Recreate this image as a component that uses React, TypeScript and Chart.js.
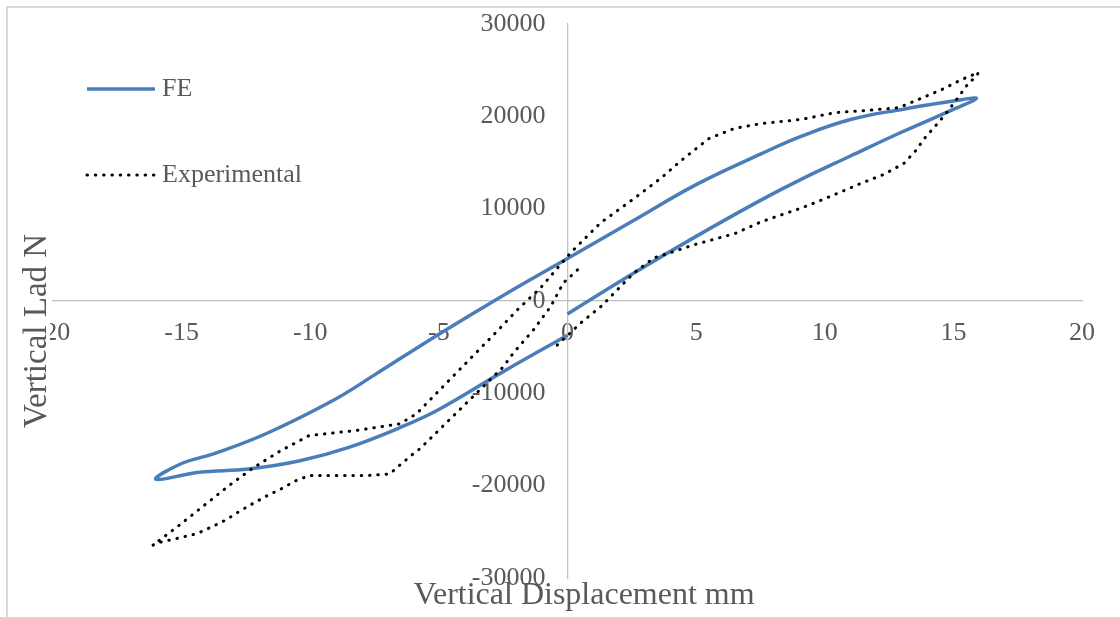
import React, { useEffect, useRef } from "react";
import { Chart, registerables } from "chart.js";

Chart.register(...registerables);

const X_TICKS = [-20, -15, -10, -5, 0, 5, 10, 15, 20];
const Y_TICKS = [-30000, -20000, -10000, 0, 10000, 20000, 30000];
const SERIES_NAMES = ["FE", "Experimental"];
const X_TITLE = "Vertical Displacement mm";
const Y_TITLE = "Vertical Lad N";

const FE_X = [0, 2.5, 5, 7.5, 9.1, 11, 13, 15, 15.9, 15, 13, 11, 9.1, 7.5, 5, 2.5, 0, -2.5, -5, -7.5, -9.1, -11.7, -13.7, -15, -16, -14.3, -12.4, -10.4, -8.5, -6.5, -5, -2.5, 0];
const FE_Y = [-1400, 2900, 7000, 10900, 13200, 15700, 18300, 20750, 21950, 21650, 20750, 19650, 17850, 15900, 12600, 8600, 4600, 600, -3600, -8000, -10750, -14350, -16500, -17600, -19300, -18550, -18200, -17300, -15850, -13700, -11750, -7650, -3700];

const EXP_X = [0.39, -0.16, -0.66, -1.33, -2.11, -2.5, -5.74, -6.0, -6.46, -6.91, -7.82, -9.14, -10.04, -10.56, -11.14, -11.68, -12.27, -12.77, -13.29, -13.83, -14.4, -15.31, -15.9, -16.12,
  -15.12, -14.14, -13.16, -12.19, -11.14, -10.04, -8.21, -6.52, -5.87, -2.62, -1.96, -1.05, 0.12, 1.29, 2.53, 3.63, 4.5, 5.5, 6.5, 7.5, 9.1, 10.39, 11.7, 12.88, 13.66, 14.57, 15.35, 15.98,
  15.86, 15.6, 15.42, 15.08, 14.69, 14.3, 13.9, 13.52, 13.07, 12.29, 11.45, 10.53, 9.75, 9.1, 7.54, 6.5, 4.92, 4.14, 3.36, 2.58, 1.29, 0.51, -0.4];
const EXP_Y = [3370, 1960, -620, -3150, -5650, -7140, -16010, -16560, -17640, -18730, -18910, -18910, -18910, -19460, -20360, -21090, -22000, -22800, -23730, -24460, -25190, -25800, -26160, -26450,
  -24350, -22170, -20000, -18010, -16200, -14570, -14020, -13300, -12210, -2935, -980, 1410, 5220, 8480, 10980, 13300, 15400, 17600, 18700, 19200, 19670, 20400, 20650, 20940, 21850, 22930, 24020, 24750,
  24200, 23660, 22940, 21660, 20220, 18950, 17690, 16230, 14890, 13700, 12790, 11700, 10790, 10080, 8590, 7300, 6090, 5360, 4670, 3040, -620, -2390, -4780];

const FONT = "'Liberation Serif', 'Times New Roman', serif";
const TEXT_COLOR = "#595959";
const FE_COLOR = "#4a7ebb";
const Y_LABEL_GAP = 22;

const yLabelShiftPlugin = {
  id: "yLabelShift",
  beforeDraw(chart: any) {
    const scale = chart.scales.y;
    if (!scale || typeof scale.getLabelItems !== "function") return;
    const items = scale.getLabelItems();
    if (!items || items.__shifted) return;
    items.forEach((it: any) => {
      if (it.options && it.options.translation) it.options.translation[0] -= Y_LABEL_GAP;
    });
    items.__shifted = true;
  },
};

const overlayPlugin = {
  id: "overlay",
  afterDraw(chart: any) {
    const ctx = chart.ctx as CanvasRenderingContext2D;
    const ds = chart.data.datasets;
    ctx.save();
    const legendYs = [81, 167];
    ds.forEach((d: any, i: number) => {
      const y = legendYs[i];
      ctx.save();
      ctx.strokeStyle = d.borderColor;
      ctx.lineWidth = d.borderWidth;
      ctx.lineCap = d.borderCapStyle || "butt";
      ctx.setLineDash(d.borderDash || []);
      ctx.beginPath();
      ctx.moveTo(79, y);
      ctx.lineTo(147, y);
      ctx.stroke();
      ctx.restore();
      ctx.fillStyle = TEXT_COLOR;
      ctx.font = `26px ${FONT}`;
      ctx.textAlign = "left";
      ctx.textBaseline = "middle";
      ctx.fillText(d.label, 154, y);
    });
    ctx.fillStyle = TEXT_COLOR;
    ctx.font = `32px ${FONT}`;
    ctx.textAlign = "center";
    ctx.textBaseline = "alphabetic";
    ctx.fillText(X_TITLE, 576, 596);
    ctx.save();
    ctx.font = `33px ${FONT}`;
    ctx.translate(38, 323);
    ctx.rotate(-Math.PI / 2);
    const w = ctx.measureText(Y_TITLE).width;
    ctx.fillStyle = "#ffffff";
    ctx.fillRect(-w / 2 - 2, -26, w + 4, 30);
    ctx.fillStyle = TEXT_COLOR;
    ctx.fillText(Y_TITLE, 0, 0);
    ctx.restore();
    ctx.restore();
  },
};

export default function App() {
  const ref = useRef<HTMLCanvasElement>(null);
  useEffect(() => {
    const chart = new Chart(ref.current as HTMLCanvasElement, {
      type: "scatter",
      data: {
        datasets: [
          {
            label: SERIES_NAMES[0],
            data: FE_X.map((x, i) => ({ x, y: FE_Y[i] })),
            showLine: true,
            borderColor: FE_COLOR,
            backgroundColor: FE_COLOR,
            borderWidth: 3.5,
            pointRadius: 0,
            tension: 0.4,
            order: 1,
          },
          {
            label: SERIES_NAMES[1],
            data: EXP_X.map((x, i) => ({ x, y: EXP_Y[i] })),
            showLine: true,
            borderColor: "#000000",
            backgroundColor: "#000000",
            borderWidth: 3,
            borderDash: [0.5, 7.8],
            borderCapStyle: "round",
            borderJoinStyle: "round",
            pointRadius: 0,
            tension: 0,
            order: 0,
          },
        ],
      } as any,
      options: {
        animation: false,
        responsive: false,
        events: [],
        layout: { padding: { left: 45, right: 30, top: 16, bottom: 39 } },
        plugins: { legend: { display: false }, tooltip: { enabled: false } },
        scales: {
          x: {
            type: "linear",
            min: -20,
            max: 20,
            position: { y: 0 } as any,
            grid: { display: false, drawTicks: false },
            border: { display: true, color: "#c0c0c0", width: 1.3 },
            afterBuildTicks: (s: any) => {
              s.ticks = X_TICKS.map((v) => ({ value: v }));
            },
            ticks: {
              autoSkip: false,
              maxRotation: 0,
              padding: 17,
              color: TEXT_COLOR,
              font: { family: FONT, size: 26 },
              callback: (v: any) => String(v),
            },
          },
          y: {
            type: "linear",
            min: -30000,
            max: 30000,
            position: { x: 0 } as any,
            grid: { display: false, drawTicks: false },
            border: { display: true, color: "#c0c0c0", width: 1.3 },
            afterBuildTicks: (s: any) => {
              s.ticks = Y_TICKS.map((v) => ({ value: v }));
            },
            ticks: {
              autoSkip: false,
              padding: 0,
              color: TEXT_COLOR,
              font: { family: FONT, size: 26 },
              callback: (v: any) => String(v),
            },
          },
        },
      },
      plugins: [yLabelShiftPlugin, overlayPlugin],
    });
    return () => chart.destroy();
  }, []);
  return (
    <div style={{ position: "fixed", left: 0, top: 0, right: 0, bottom: 0, overflow: "hidden", background: "#ffffff" }}>
      <div
        style={{
          position: "absolute",
          left: 6,
          top: 6,
          width: 1150,
          height: 650,
          border: "2px solid #d9d9d9",
          boxSizing: "border-box",
        }}
      />
      <div style={{ position: "absolute", left: 8, top: 8, width: 1104, height: 609 }}>
        <canvas ref={ref} width={1104} height={609} style={{ display: "block", width: 1104, height: 609 }} />
      </div>
    </div>
  );
}
